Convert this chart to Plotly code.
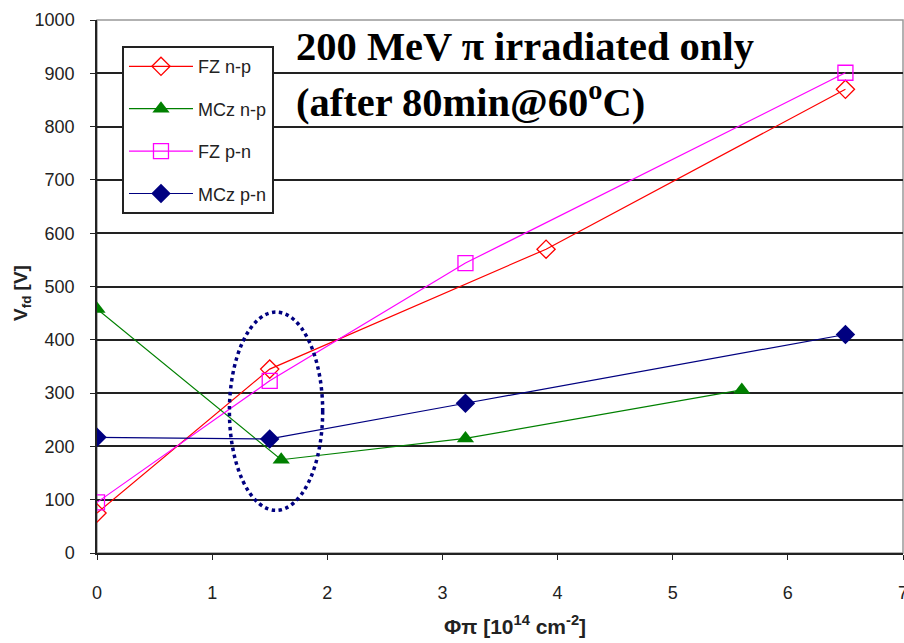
import plotly.graph_objects as go

fz_np_x = [0, 1.5, 3.9, 6.5]
fz_np_y = [75, 345, 570, 870]
mcz_np_x = [0, 1.6, 3.2, 5.6]
mcz_np_y = [458, 175, 215, 306]
fz_pn_x = [0, 1.5, 3.2, 6.5]
fz_pn_y = [95, 323, 544, 901]
mcz_pn_x = [0, 1.5, 3.2, 6.5]
mcz_pn_y = [217, 214, 281, 410]

names = ["FZ n-p", "MCz n-p", "FZ p-n", "MCz p-n"]
xticks = [0, 1, 2, 3, 4, 5, 6, 7]
yticks = [0, 100, 200, 300, 400, 500, 600, 700, 800, 900, 1000]

NARROW = "Liberation Sans Narrow, Arial Narrow, Liberation Sans, sans-serif"

fig = go.Figure()
fig.add_trace(go.Scatter(x=fz_np_x, y=fz_np_y, name=names[0], mode="lines+markers",
                         line=dict(color="#ff0000", width=1.2), legendgroup="a",
                         marker=dict(symbol="diamond-open", size=14, color="#ff0000", line=dict(width=1.3))))
fig.add_trace(go.Scatter(x=mcz_np_x, y=mcz_np_y, name=names[1], mode="lines+markers",
                         line=dict(color="#008000", width=1.2), legendgroup="b",
                         marker=dict(symbol="triangle-up", size=15, color="#008000")))
fig.add_trace(go.Scatter(x=fz_pn_x, y=fz_pn_y, name=names[2], mode="lines+markers",
                         line=dict(color="#ff00ff", width=1.2), legendgroup="c",
                         marker=dict(symbol="square-open", size=15, color="#ff00ff", line=dict(width=1.3))))
fig.add_trace(go.Scatter(x=mcz_pn_x, y=mcz_pn_y, name=names[3], mode="lines+markers",
                         line=dict(color="#000080", width=1.2), legendgroup="d",
                         marker=dict(symbol="diamond", size=15, color="#000080")))

fig.add_shape(type="circle", xref="x", yref="y", x0=1.15, x1=1.96, y0=80, y1=452,
              line=dict(color="#000080", width=3.5, dash="dot"))
fig.add_shape(type="rect", xref="paper", yref="paper", x0=0, x1=1, y0=0, y1=1,
              line=dict(color="#999999", width=1.5), layer="below")

fig.add_annotation(xref="x", yref="y", x=1.71, y=951, xanchor="left", yanchor="middle",
                   text="<b>200 MeV π irradiated only</b>", showarrow=False,
                   font=dict(family="Liberation Serif", size=40.5, color="black"))
fig.add_annotation(xref="x", yref="y", x=1.71, y=851, xanchor="left", yanchor="middle",
                   text="<b>(after 80min@60<sup>o</sup>C)</b>", showarrow=False,
                   font=dict(family="Liberation Serif", size=40.5, color="black"))

# axis titles
fig.add_annotation(xref="x", yref="paper", x=3.63, y=-0.135, xanchor="center", yanchor="middle",
                   text="<b>Φπ [10<sup>14</sup> cm<sup>-2</sup>]</b>", showarrow=False,
                   font=dict(family=NARROW, size=21, color="#222"))
fig.add_annotation(xref="paper", yref="paper", x=-0.093, y=0.488, xanchor="center", yanchor="middle",
                   text="<b>V<sub>fd</sub> [V]</b>", showarrow=False, textangle=-90,
                   font=dict(family=NARROW, size=19, color="#222"))

fig.update_layout(
    width=904, height=643,
    margin=dict(l=97, r=1, t=20, b=90, autoexpand=False),
    paper_bgcolor="white", plot_bgcolor="white",
    font=dict(family=NARROW, size=16, color="#222"),
    showlegend=True,
    legend=dict(x=0.031, y=0.951, xanchor="left", yanchor="top",
                bgcolor="white", bordercolor="#222", borderwidth=2,
                tracegroupgap=16, font=dict(family=NARROW, size=18, color="#222"),
                entrywidth=171, entrywidthmode="pixels", itemwidth=64),
    xaxis=dict(range=[0, 7], tickvals=xticks, showgrid=False, zeroline=False,
               showline=True, linecolor="#222", linewidth=1.5, automargin=False,
               ticks="outside", ticklen=5, tickcolor="#222",
               tickfont=dict(size=18), ticklabelstandoff=18, ticklabeloverflow="allow"),
    yaxis=dict(range=[0, 1000], tickvals=yticks, showgrid=True, gridcolor="#222", gridwidth=1.8,
               zeroline=False, showline=True, linecolor="#222", linewidth=1.5, automargin=False,
               ticks="outside", ticklen=5, tickcolor="#222",
               tickfont=dict(size=18), ticklabelstandoff=12),
)

fig.write_html("out.html")
